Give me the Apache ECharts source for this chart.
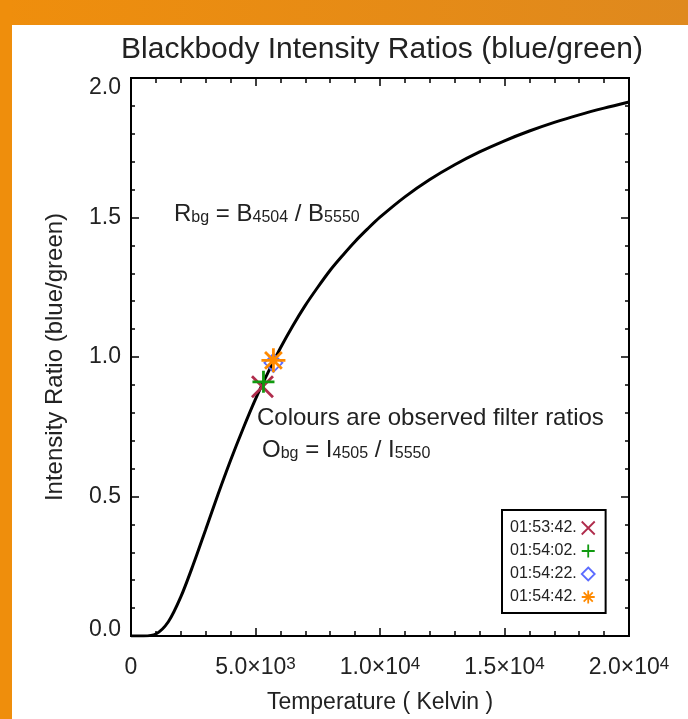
<!DOCTYPE html>
<html>
<head>
<meta charset="utf-8">
<script src="https://cdn.jsdelivr.net/npm/echarts@6/dist/echarts.min.js"></script>
<style>
html,body{margin:0;padding:0;background:#fff;}
#chart{width:688px;height:719px;}
</style>
</head>
<body>
<div id="chart"></div>
<script>
// Curve: blackbody ratio
var temps = [0,500,1000,1500,2000,2500,3000,3500,4000,4500,5000,5500,6000,6500,7000,7500,8000,8500,9000,9500,10000,11000,12000,13000,14000,15000,16000,17000,18000,19000,20000];
var ratios = [0,0.000,0.007,0.051,0.140,0.256,0.382,0.509,0.630,0.743,0.849,0.944,1.032,1.112,1.185,1.250,1.311,1.364,1.414,1.459,1.501,1.574,1.636,1.689,1.735,1.775,1.810,1.841,1.868,1.892,1.914];

// Observed filter ratios
var obsNames = ['01:53:42.','01:54:02.','01:54:22.','01:54:42.'];
var obsTemps = [5280,5320,5720,5720];
var obsRatios = [0.893,0.911,0.979,0.988];

var yTicks = ['{lo|0.0}','0.5','1.0','1.5','{hi|2.0}'];
var xTickLabels = {0:'0',5000:'5.0×10{sup|3}',10000:'1.0×10{sup|4}',15000:'1.5×10{sup|4}',20000:'2.0×10{sup|4}'};

var FONT = '"Liberation Sans", Arial, sans-serif';
var GRID_W = 498, GRID_H = 558;
var chart = echarts.init(document.getElementById('chart'));

var curveData = temps.map(function(t,i){return [t, ratios[i]];});

var symX = 'path://M0,0L10,10M10,0L0,10';
var symPlus = 'path://M5,0L5,10M0,5L10,5';
var symStar = 'path://M5,0L5,10M0,5L10,5M1.5,1.5L8.5,8.5M8.5,1.5L1.5,8.5';
var obsSymbols = [symX, symPlus, 'diamond', symStar];
var obsColors = ['#B02C4C','#109A10','#5C6CFF','#FF8A00'];
var obsSizes = [21, 22, 18, 24];
var obsWidths = [2.8, 2.8, 1.8, 2.8];

var series = [{
  type:'line', name:'curve', data: curveData, showSymbol:false, smooth:0.3,
  lineStyle:{color:'#000', width:3}, z:2, silent:true
}];
obsNames.forEach(function(n,i){
  series.push({
    type:'scatter', name:n, data:[[obsTemps[i], obsRatios[i]]],
    symbol: obsSymbols[i], symbolSize: obsSizes[i], z:3,
    itemStyle:{color:'rgba(0,0,0,0)', borderColor: obsColors[i], borderWidth: obsWidths[i], opacity:1}
  });
});

function axisLine(){ return {show:true, onZero:false, lineStyle:{color:'#000', width:2}}; }
function majorTick(inside){ return {show:true, inside:inside, length:8, lineStyle:{color:'#000', width:1.5}}; }
function minorTick(len){ return {show:true, splitNumber:5, length:len, lineStyle:{color:'#000', width:1.5}}; }

// tick-only axes placed on the opposite frame edge, drawing outward ticks (= pointing into the plot)
function tickOnlyX(pos, offset){
  return {type:'value', min:0, max:20000, interval:5000, position:pos, offset:offset,
    axisLine:{show:false, onZero:false}, axisTick:majorTick(false), minorTick:minorTick(5),
    splitLine:{show:false}, minorSplitLine:{show:false}, axisLabel:{show:false}};
}
function tickOnlyY(pos, offset){
  return {type:'value', min:0, max:2, interval:0.5, position:pos, offset:offset,
    axisLine:{show:false, onZero:false}, axisTick:majorTick(false), minorTick:minorTick(4),
    splitLine:{show:false}, minorSplitLine:{show:false}, axisLabel:{show:false}};
}

chart.setOption({
  animation:false,
  backgroundColor:'#fff',
  title:{
    text:'Blackbody Intensity Ratios (blue/green)',
    left:377, top:30, textAlign:'center',
    textStyle:{fontFamily:FONT, fontSize:30, fontWeight:'normal', color:'#222'}
  },
  grid:{left:131, right:59, top:78, bottom:83, show:true, borderColor:'#000', borderWidth:2, backgroundColor:'rgba(0,0,0,0)'},
  legend:{
    data: obsNames.map(function(n,i){return {name:n, icon: obsSymbols[i], itemStyle:{color:'rgba(0,0,0,0)', borderColor:obsColors[i], borderWidth:1.8}};}),
    orient:'vertical', left:502, top:510, align:'right',
    itemWidth:13, itemHeight:13, itemGap:7,
    padding:[10,10,8,8],
    borderColor:'#000', borderWidth:2, backgroundColor:'#fff',
    textStyle:{fontFamily:FONT, fontSize:16, color:'#222'},
    selectedMode:false
  },
  xAxis:[{
    type:'value', min:0, max:20000, interval:5000, position:'bottom',
    axisLine:axisLine(),
    axisTick:majorTick(true),
    minorTick:minorTick(5),
    splitLine:{show:false},
    axisLabel:{
      margin:20, color:'#222', fontFamily:FONT, fontSize:23,
      formatter:function(v){return xTickLabels[v] !== undefined ? xTickLabels[v] : '';},
      rich:{sup:{fontSize:17, fontFamily:FONT, color:'#222', verticalAlign:'top', lineHeight:14}}
    },
    name:'Temperature ( Kelvin )', nameLocation:'middle', nameGap:55,
    nameTextStyle:{fontFamily:FONT, fontSize:23, color:'#222'}
  }, tickOnlyX('top', -GRID_H), tickOnlyX('bottom', -GRID_H)],
  yAxis:[{
    type:'value', min:0, max:2, interval:0.5, position:'left',
    axisLine:axisLine(),
    axisTick:majorTick(true),
    minorTick:minorTick(4),
    splitLine:{show:false},
    axisLabel:{margin:10, color:'#222', fontFamily:FONT, fontSize:23,
      formatter:function(v){var i=Math.round(v/0.5); return yTicks[i]!==undefined?yTicks[i]:'';},
      rich:{lo:{fontSize:23, fontFamily:FONT, color:'#222', padding:[0,0,12,0]},
            hi:{fontSize:23, fontFamily:FONT, color:'#222', padding:[20,0,0,0]}}},
    name:'Intensity Ratio (blue/green)', nameLocation:'middle', nameGap:64,
    nameTextStyle:{fontFamily:FONT, fontSize:24, color:'#222'}
  }, tickOnlyY('right', -GRID_W), tickOnlyY('left', -GRID_W)],
  series: series,
  graphic:[
    {type:'rect', shape:{x:0,y:0,width:688,height:25}, z:100,
     style:{fill:new echarts.graphic.LinearGradient(0,0,1,0,[{offset:0,color:'#EF8E0C'},{offset:1,color:'#DF891E'}])}},
    {type:'rect', shape:{x:0,y:0,width:12,height:719}, z:100, style:{fill:'#EF8E0C'}},
    {type:'text', left:174, top:194, z:50,
     style:{text:'{m|R}{sub|bg}{m| = B}{sub|4504}{m| / B}{sub|5550}', fill:'#222',
       rich:{m:{fontSize:24, fontFamily:FONT, fill:'#222', verticalAlign:'top', lineHeight:24},
             sub:{fontSize:16, fontFamily:FONT, fill:'#222', verticalAlign:'bottom', lineHeight:12, padding:[16,0,0,0]}}}},
    {type:'text', left:257, top:406, z:50,
     style:{text:'Colours are observed filter ratios', font:'24px '+FONT, fill:'#222'}},
    {type:'text', left:262, top:430, z:50,
     style:{text:'{m|O}{sub|bg}{m| = I}{sub|4505}{m| / I}{sub|5550}', fill:'#222',
       rich:{m:{fontSize:24, fontFamily:FONT, fill:'#222', verticalAlign:'top', lineHeight:24},
             sub:{fontSize:16, fontFamily:FONT, fill:'#222', verticalAlign:'bottom', lineHeight:12, padding:[16,0,0,0]}}}}
  ]
});
</script>
</body>
</html>
